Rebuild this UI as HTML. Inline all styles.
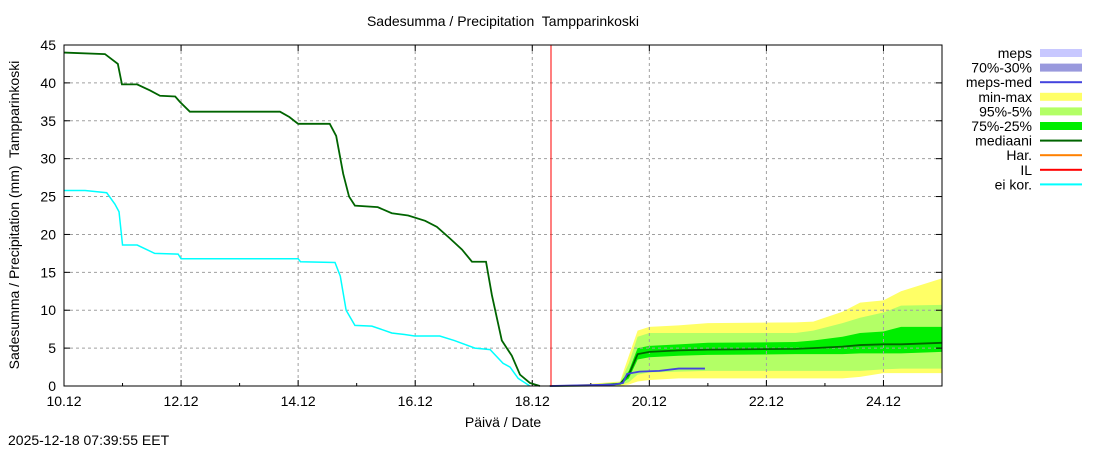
<!DOCTYPE html>
<html><head><meta charset="utf-8"><style>
body{margin:0;background:#fff;font-family:"Liberation Sans",sans-serif}
svg text{font-family:"Liberation Sans",sans-serif;font-size:14px;fill:#000;white-space:pre}
</style></head><body>
<svg id="c" width="1100" height="450" xmlns="http://www.w3.org/2000/svg">
<rect width="1100" height="450" fill="#fff"/>
<text x="503" y="26" text-anchor="middle">Sadesumma / Precipitation  Tampparinkoski</text>
<text x="503" y="427" text-anchor="middle">Päivä / Date</text>
<text transform="translate(19,215) rotate(-90)" text-anchor="middle">Sadesumma / Precipitation (mm)  Tampparinkoski</text>
<text x="8" y="445">2025-12-18 07:39:55 EET</text>
<g id="g"></g>
</svg>
<script>
const xTicks=[0,2,4,6,8,10,12,14];
const xTickLabels=["10.12","12.12","14.12","16.12","18.12","20.12","22.12","24.12"];
const yTicks=[0,5,10,15,20,25,30,35,40,45];
const histDays=[0,0.7,0.92,0.99,1.25,1.47,1.64,1.9,1.98,2.15,3.69,3.85,4.0,4.54,4.65,4.77,4.87,4.97,5.36,5.6,5.88,6.17,6.37,6.59,6.8,6.97,7.21,7.31,7.48,7.65,7.79,7.96,8.13];
const histMedian=[44,43.8,42.5,39.8,39.8,39,38.3,38.2,37.5,36.2,36.2,35.5,34.6,34.6,33,28,25,23.8,23.6,22.8,22.5,21.8,21,19.5,18,16.4,16.4,12,6,4,1.5,0.4,0];
const uncDays=[0,0.36,0.73,0.87,0.94,1.0,1.25,1.55,1.95,2.0,4.0,4.04,4.63,4.72,4.82,4.97,5.26,5.6,5.82,5.99,6.42,6.67,7.02,7.28,7.5,7.62,7.76,7.96];
const uncorrected=[25.8,25.8,25.5,24,23,18.6,18.6,17.5,17.4,16.8,16.8,16.4,16.3,14.5,10,8,7.9,7,6.8,6.6,6.6,6,5,4.8,3,2.5,1,0];
const fcDays=[8.3,9.0,9.5,9.65,9.8,10.0,10.5,11.0,12.5,12.8,13.3,13.6,14.0,14.3,15.0];
const fcMax=[0,0.3,0.6,4,7.3,7.8,8.0,8.3,8.4,8.5,9.8,11,11.3,12.5,14.2];
const fcP95=[0,0.2,0.5,3,6.5,7,7,7,7,7.3,8.3,9,9.7,10.6,10.7];
const fcP75=[0,0.1,0.4,2,5,5.3,5.5,5.7,5.8,6,6.5,7,7.2,7.8,7.8];
const fcMed=[0,0.05,0.3,1.5,4.2,4.5,4.7,4.8,4.9,5,5.2,5.4,5.5,5.5,5.7];
const fcP25=[0,0,0.2,1,3.5,3.8,4.0,4.1,4.2,4.2,4.2,4.3,4.3,4.3,4.5];
const fcP5=[0,0,0.1,0.5,1.5,1.8,1.9,2.0,2.0,2.0,2.0,2.0,2.2,2.3,2.3];
const fcMin=[0,0,0,0.2,0.6,0.8,1.0,1.0,1.0,1.0,1.0,1.2,1.7,1.7,1.7];
const mepsDays=[8.3,9.4,9.55,9.62,9.83,10.17,10.5,10.95];
const mepsMed=[0,0.2,0.4,1.6,1.9,2.0,2.3,2.3];
const ilDay=8.32;
const X0=64,X1=942,Y0=386,Y1=45,DMAX=15,VMAX=45;
const xs=d=>X0+(X1-X0)*d/DMAX, ys=v=>Y0-(Y0-Y1)*v/VMAX;
const NS="http://www.w3.org/2000/svg",g=document.getElementById('g');
function mk(t,a){const e=document.createElementNS(NS,t);for(const k in a)e.setAttribute(k,a[k]);g.appendChild(e);return e;}
function band(lo,hi,col,name){let p=fcDays.map((d,i)=>xs(d)+','+ys(hi[i]));for(let i=fcDays.length-1;i>=0;i--)p.push(xs(fcDays[i])+','+ys(lo[i]));
const e=mk('polygon',{points:p.join(' '),fill:col});

}
function line(ds,vs,col,w,name){const e=mk('polyline',{points:ds.map((d,i)=>xs(d)+','+ys(vs[i])).join(' '),fill:'none',stroke:col,'stroke-width':w});

}
band(fcMin,fcMax,'#ffff66','band-min-max');
band(fcP5,fcP95,'#b3ff66','band-95-5');
band(fcP25,fcP75,'#00ee00','band-75-25');
yTicks.forEach(v=>{if(v>0&&v<45){const e=mk('line',{x1:X0,x2:X1,y1:ys(v),y2:ys(v),stroke:'#a0a0a0','stroke-dasharray':'3,3'});

}
const t=mk('text',{x:X0-8,y:ys(v)+5,'text-anchor':'end'});t.textContent=v;


mk('line',{x1:X0,x2:X0+6,y1:ys(v),y2:ys(v),stroke:'#000'});mk('line',{x1:X1,x2:X1-6,y1:ys(v),y2:ys(v),stroke:'#000'});});
xTicks.forEach((d,i)=>{if(d>0){const e=mk('line',{x1:xs(d),x2:xs(d),y1:Y1,y2:Y0,stroke:'#a0a0a0','stroke-dasharray':'3,3'});

}
const t=mk('text',{x:xs(d),y:Y0+20,'text-anchor':'middle'});t.textContent=xTickLabels[i];


mk('line',{x1:xs(d),x2:xs(d),y1:Y0,y2:Y0-6,stroke:'#000'});mk('line',{x1:xs(d),x2:xs(d),y1:Y1,y2:Y1+6,stroke:'#000'});});
for(let d=1;d<DMAX;d+=2){mk('line',{x1:xs(d),x2:xs(d),y1:Y0,y2:Y0-3,stroke:'#000'});}
line(uncDays,uncorrected,'#00ffff',1.5,'uncorrected-line');
line(histDays,histMedian,'#006400',1.8,'median-history-line');
line(fcDays,fcMed,'#006400',1.8,'median-forecast-line');
line(mepsDays,mepsMed,'#4444dd',1.8,'meps-median-line');
const il=mk('line',{x1:xs(ilDay),x2:xs(ilDay),y1:Y1,y2:Y0,stroke:'#ff0000','stroke-width':1});


const fr=mk('rect',{x:X0,y:Y1,width:X1-X0,height:Y0-Y1,fill:'none',stroke:'#000'});


const legLabels=["meps","70%-30%","meps-med","min-max","95%-5%","75%-25%","mediaani","Har.","IL","ei kor."];
const legCols=["#c8c8ff","#9999dd","#4444dd","#ffff66","#b3ff66","#00ee00","#006400","#ff8000","#ff0000","#00ffff"];
const legThick=[8,8,2,8,8,8,2,2,2,2];
legLabels.forEach((l,i)=>{const y=53+i*14.6;
const t=mk('text',{x:1032,y:y+5,'text-anchor':'end'});t.textContent=l;


const r=mk('rect',{x:1040,y:y-legThick[i]/2,width:42,height:legThick[i],fill:legCols[i]});

});
</script>
</body></html>
